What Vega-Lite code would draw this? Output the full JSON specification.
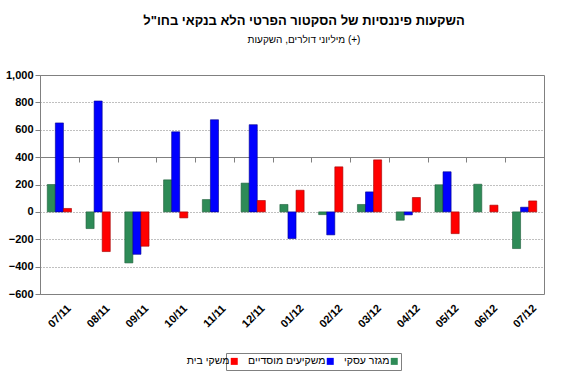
{
  "$schema": "https://vega.github.io/schema/vega-lite/v6.json",
  "autosize": "none",
  "width": 504,
  "height": 219,
  "padding": {"left": 40, "top": 75, "right": 23, "bottom": 97},
  "background": "white",
  "title": {
    "text": "השקעות פיננסיות של הסקטור הפרטי הלא בנקאי בחו\"ל",
    "subtitle": "מיליוני דולרים, השקעות (+)",
    "anchor": "middle",
    "font": "Liberation Sans",
    "fontSize": 13,
    "fontWeight": "bold",
    "color": "black",
    "subtitleFont": "Liberation Sans",
    "subtitleFontSize": 10,
    "subtitleColor": "black",
    "subtitlePadding": 7,
    "offset": 24,
    "dx": 12
  },
  "data": {
    "values": [
      {"month": "07/11", "series": "מגזר עסקי", "value": 200},
      {"month": "07/11", "series": "משקיעים מוסדיים", "value": 650},
      {"month": "07/11", "series": "משקי בית", "value": 25},
      {"month": "08/11", "series": "מגזר עסקי", "value": -122},
      {"month": "08/11", "series": "משקיעים מוסדיים", "value": 810},
      {"month": "08/11", "series": "משקי בית", "value": -290},
      {"month": "09/11", "series": "מגזר עסקי", "value": -373},
      {"month": "09/11", "series": "משקיעים מוסדיים", "value": -310},
      {"month": "09/11", "series": "משקי בית", "value": -251},
      {"month": "10/11", "series": "מגזר עסקי", "value": 234},
      {"month": "10/11", "series": "משקיעים מוסדיים", "value": 585},
      {"month": "10/11", "series": "משקי בית", "value": -44},
      {"month": "11/11", "series": "מגזר עסקי", "value": 90},
      {"month": "11/11", "series": "משקיעים מוסדיים", "value": 673},
      {"month": "12/11", "series": "מגזר עסקי", "value": 210},
      {"month": "12/11", "series": "משקיעים מוסדיים", "value": 637},
      {"month": "12/11", "series": "משקי בית", "value": 83},
      {"month": "01/12", "series": "מגזר עסקי", "value": 54},
      {"month": "01/12", "series": "משקיעים מוסדיים", "value": -195},
      {"month": "01/12", "series": "משקי בית", "value": 158},
      {"month": "02/12", "series": "מגזר עסקי", "value": -20},
      {"month": "02/12", "series": "משקיעים מוסדיים", "value": -168},
      {"month": "02/12", "series": "משקי בית", "value": 329},
      {"month": "03/12", "series": "מגזר עסקי", "value": 54},
      {"month": "03/12", "series": "משקיעים מוסדיים", "value": 146},
      {"month": "03/12", "series": "משקי בית", "value": 380},
      {"month": "04/12", "series": "מגזר עסקי", "value": -61},
      {"month": "04/12", "series": "משקיעים מוסדיים", "value": -22},
      {"month": "04/12", "series": "משקי בית", "value": 105},
      {"month": "05/12", "series": "מגזר עסקי", "value": 198},
      {"month": "05/12", "series": "משקיעים מוסדיים", "value": 293},
      {"month": "05/12", "series": "משקי בית", "value": -159},
      {"month": "06/12", "series": "מגזר עסקי", "value": 202},
      {"month": "06/12", "series": "משקי בית", "value": 49},
      {"month": "07/12", "series": "מגזר עסקי", "value": -268},
      {"month": "07/12", "series": "משקיעים מוסדיים", "value": 34},
      {"month": "07/12", "series": "משקי בית", "value": 80}
    ]
  },
  "mark": {"type": "bar", "strokeWidth": 0.6},
  "encoding": {
    "x": {
      "field": "month",
      "type": "nominal",
      "sort": null,
      "title": null,
      "scale": {"paddingInner": 0, "paddingOuter": 0},
      "axis": {
        "orient": "bottom",
        "offset": -137,
        "domain": true,
        "domainColor": "#808080",
        "ticks": true,
        "tickColor": "#808080",
        "tickSize": 5,
        "tickBand": "extent",
        "labelAngle": -45,
        "labelAlign": "center",
        "labelBaseline": "middle",
        "labelPadding": 154,
        "labelFont": "Liberation Sans",
        "labelFontSize": 11,
        "labelFontWeight": "bold",
        "labelColor": "black",
        "grid": false
      }
    },
    "xOffset": {
      "field": "series",
      "type": "nominal",
      "sort": ["מגזר עסקי", "משקיעים מוסדיים", "משקי בית"],
      "scale": {"paddingInner": 0, "paddingOuter": 0.9}
    },
    "y": {
      "field": "value",
      "type": "quantitative",
      "title": null,
      "scale": {"domain": [-600, 1000], "nice": false, "zero": false},
      "axis": {
        "values": [-600, -400, -200, 0, 200, 400, 600, 800, 1000],
        "format": ",d",
        "domainColor": "#808080",
        "tickColor": "#808080",
        "tickSize": 5,
        "labelPadding": 2,
        "labelFont": "Liberation Sans",
        "labelFontSize": 11,
        "labelFontWeight": "bold",
        "labelColor": "black",
        "grid": true,
        "gridColor": "#808080",
        "gridDash": [1, 2],
        "gridWidth": 1
      }
    },
    "color": {
      "field": "series",
      "type": "nominal",
      "title": null,
      "scale": {
        "domain": ["מגזר עסקי", "משקיעים מוסדיים", "משקי בית"],
        "range": ["#2E8B57", "#0000FF", "#FF0000"]
      },
      "legend": {
        "orient": "none",
        "legendX": 186,
        "legendY": 278,
        "direction": "horizontal",
        "values": ["משקי בית", "משקיעים מוסדיים", "מגזר עסקי"],
        "symbolType": "square",
        "symbolSize": 49,
        "symbolStrokeWidth": 0,
        "labelFont": "Liberation Sans",
        "labelFontSize": 10.5,
        "labelColor": "black",
        "labelAlign": "right",
        "labelOffset": -10,
        "columnPadding": 10,
        "strokeColor": "#808080",
        "fillColor": "white",
        "padding": 3
      }
    },
    "stroke": {
      "field": "series",
      "type": "nominal",
      "scale": {
        "domain": ["מגזר עסקי", "משקיעים מוסדיים", "משקי בית"],
        "range": ["#1E5E3A", "#00008B", "#A00000"]
      },
      "legend": null
    }
  },
  "config": {
    "view": {"stroke": "#808080", "strokeWidth": 1},
    "legend": {"strokeColor": "#808080", "fillColor": "white", "padding": 3, "strokeWidth": 1}
  }
}
